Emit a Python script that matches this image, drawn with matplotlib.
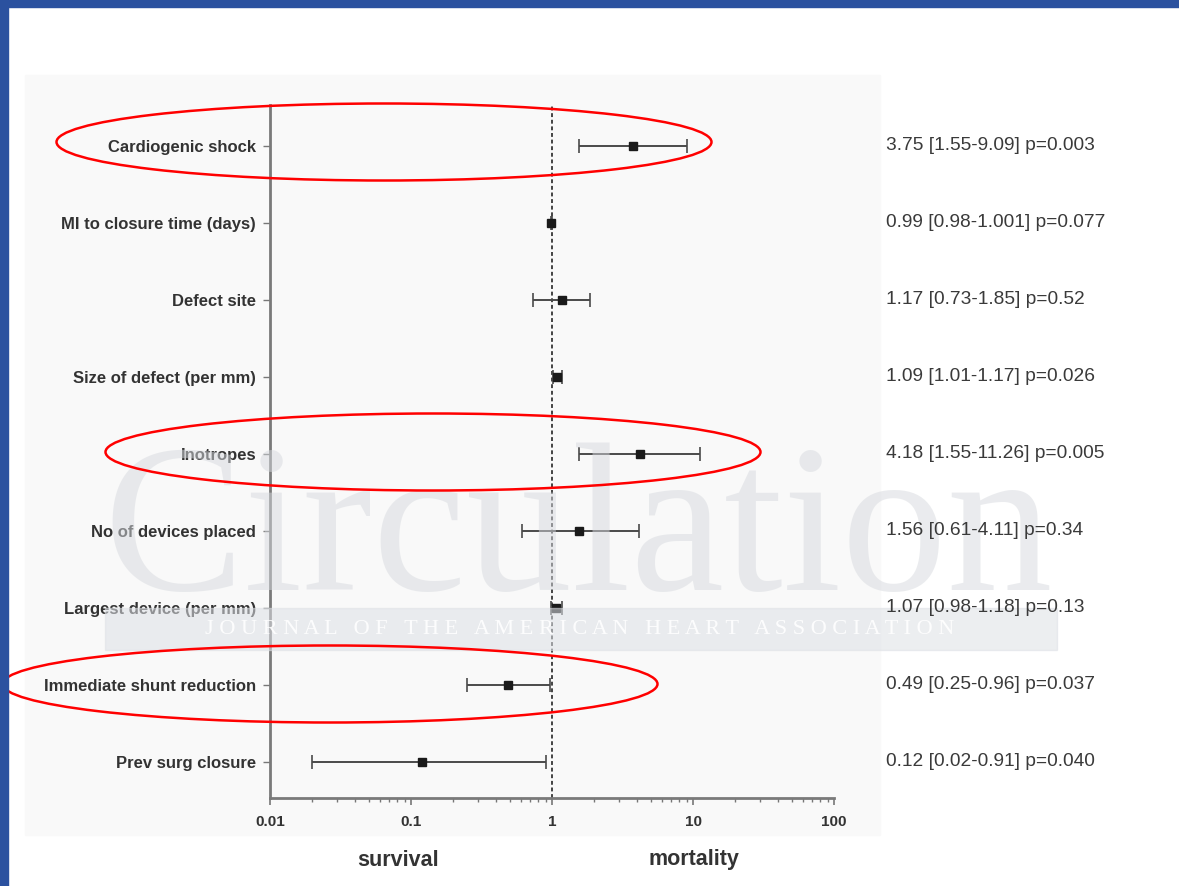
import numpy as np
import matplotlib
matplotlib.use("Agg")
import matplotlib.pyplot as plt
import matplotlib.transforms as mtransforms
from matplotlib.patches import Rectangle, Ellipse

# hazard ratios with 95% CI, one row per predictor
labels = ["Cardiogenic shock", "MI to closure time (days)", "Defect site",
          "Size of defect (per mm)", "Inotropes", "No of devices placed",
          "Largest device (per mm)", "Immediate shunt reduction", "Prev surg closure"]
hr = [3.75, 0.99, 1.17, 1.09, 4.18, 1.56, 1.07, 0.49, 0.12]
lo = [1.55, 0.98, 0.73, 1.01, 1.55, 0.61, 0.98, 0.25, 0.02]
hi = [9.09, 1.001, 1.85, 1.17, 11.26, 4.11, 1.18, 0.96, 0.91]
pval = ["0.003", "0.077", "0.52", "0.026", "0.005", "0.34", "0.13", "0.037", "0.040"]
highlight = [0, 4, 7]
xticks = [0.01, 0.1, 1, 10, 100]

W, H = 1179, 886
fig = plt.figure(figsize=(W / 100, H / 100), dpi=100)
fig.patch.set_facecolor("white")

# light panel behind the plot
fig.patches.append(Rectangle((25 / W, 1 - 835 / H), 855 / W, 760 / H,
                             transform=fig.transFigure, color="#f9f9f9", zorder=-2))

ax = fig.add_axes([270 / W, 1 - 798 / H, 564 / W, (798 - 105) / H])
ax.set_facecolor("none")
ax.set_xscale("log")
ax.set_xlim(0.01, 100)
n = len(labels)
ax.set_ylim(n - 1 + 0.47, -0.53)

y = np.arange(n)
ax.axvline(1, color="#444444", lw=1.4, ls=(0, (2, 1.4)), zorder=1)
ax.errorbar(hr, y, xerr=[np.array(hr) - np.array(lo), np.array(hi) - np.array(hr)],
            fmt="s", color="#1a1a1a", ecolor="#4a4a4a", elinewidth=1.4,
            capsize=5, capthick=1.2, markersize=6, zorder=3)

for s in ["top", "right"]:
    ax.spines[s].set_visible(False)
for s in ["left", "bottom"]:
    ax.spines[s].set_color("#7a7a7a")
    ax.spines[s].set_linewidth(2)

ax.set_yticks(y)
ax.set_yticklabels(labels, fontfamily="Liberation Sans", fontweight="bold",
                   fontsize=12, color="#333333")
ax.tick_params(axis="y", length=5, width=1, color="#777777", pad=5)
ax.set_xticks(xticks)
ax.set_xticklabels(["0.01", "0.1", "1", "10", "100"], fontfamily="Liberation Sans",
                   fontweight="bold", fontsize=11, color="#333333")
ax.tick_params(axis="x", which="major", length=5, width=1.2, color="#777777", pad=7)
ax.tick_params(axis="x", which="minor", length=3, width=1, color="#777777")

# estimate text to the right of each row, kept above the watermark
tr = mtransforms.blended_transform_factory(fig.transFigure, ax.transData)
for i in range(n):
    fig.text(886 / W, y[i], f"{hr[i]} [{lo[i]}-{hi[i]}] p={pval[i]}",
             transform=tr, ha="left", va="center", fontsize=13.8,
             fontfamily="Liberation Sans", color="#3a3a3a", zorder=8)

fig.text(398 / W, 1 - 860 / H, "survival", ha="center", va="center",
         fontsize=15.5, fontweight="bold", fontfamily="Liberation Sans", color="#333333")
fig.text(694 / W, 1 - 860 / H, "mortality", ha="center", va="center",
         fontsize=15.5, fontweight="bold", fontfamily="Liberation Sans", color="#333333")

# journal watermark
fig.patches.append(Rectangle((105 / W, 1 - 650 / H), 952 / W, 42 / H,
                             transform=fig.transFigure, color="#dde0e5",
                             alpha=0.55, zorder=5))
fig.text(578 / W, 1 - 590 / H, "Circulation", ha="center", va="baseline",
         fontsize=152, fontfamily="Liberation Serif", color="#d6d9de",
         alpha=0.5, zorder=6)
fig.text(580 / W, 1 - 629 / H, "J O U R N A L   O F   T H E   A M E R I C A N   "
         "H E A R T   A S S O C I A T I O N", ha="center", va="center",
         fontsize=16, fontfamily="Liberation Serif", color="white",
         alpha=0.9, zorder=7)

# red rings around the significant predictors
centers = {0: (384, 142), 4: (433, 452), 7: (330, 684)}
for i in highlight:
    cx, cy = centers[i]
    fig.patches.append(Ellipse((cx / W, 1 - cy / H), 655 / W, 77 / H,
                               transform=fig.transFigure, fill=False,
                               edgecolor="#ff0000", lw=1.8, zorder=10))

# slide frame
fig.patches.append(Rectangle((0, 0), 8 / W, 1, transform=fig.transFigure,
                             color="#2b519f", zorder=11))
fig.patches.append(Rectangle((0, 1 - 7 / H), 1, 7 / H, transform=fig.transFigure,
                             color="#2b519f", zorder=11))

fig.savefig("out.png", dpi=100)
